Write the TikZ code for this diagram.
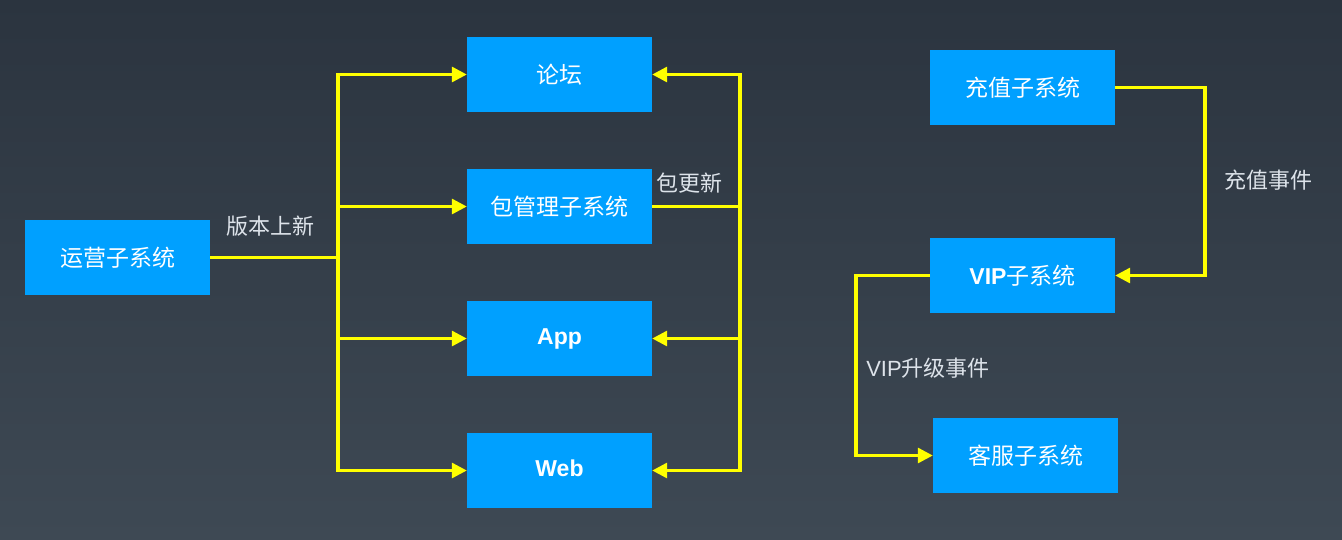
\documentclass[tikz,border=0pt]{standalone}
\usepackage{fontspec}
\setmainfont{Noto Sans CJK SC}
\newfontfamily\cjk{Noto Sans CJK SC}
\newfontfamily\latb{Liberation Sans}
\usetikzlibrary{arrows.meta}
\definecolor{boxblue}{HTML}{00A0FF}
\definecolor{bgtop}{HTML}{2B343F}
\definecolor{bgbot}{HTML}{3E4954}
\definecolor{linky}{HTML}{FFFF00}
\definecolor{lbl}{HTML}{DDE3EA}
\begin{document}
\begin{tikzpicture}[x=1pt,y=-1pt,
  sys/.style={fill=boxblue,minimum width=185pt,minimum height=75pt,inner sep=0pt,text=white,font=\cjk\fontsize{23}{25}\selectfont},
  lab/.style={text=lbl,font=\cjk\fontsize{22}{24}\selectfont,inner sep=0pt},
  conn/.style={draw=linky,line width=3.2pt,line cap=rect},
  arr/.style={conn,-{Triangle[length=15pt,width=15pt]}}]
\shade[top color=bgtop,bottom color=bgbot] (0,0) rectangle (1342,539);
\useasboundingbox (0,0) rectangle (1342,539);
\node[sys] (ops) at (117.5,257.5) {运营子系统};
\node[sys] (forum) at (559.5,74.5) {论坛};
\node[sys] (pkg) at (559.5,206.5) {包管理子系统};
\node[sys] (app) at (559.5,338.5) {\latb\bfseries App\vphantom{p}};
\node[sys] (web) at (559.5,470.5) {\latb\bfseries Web\vphantom{p}};
\node[sys] (pay) at (1022.5,87.5) {充值子系统};
\node[sys] (vip) at (1022.5,275.5) {{\latb\bfseries VIP}子系统};
\node[sys] (cs) at (1025.5,455.5) {客服子系统};
\coordinate (lt) at (338,257.5);
\coordinate (rt) at (740,206.5);
\coordinate (pc) at (1205,87.5);
\coordinate (vc) at (856,275.5);
% left trunk
\draw[conn,line cap=butt] (ops.east) -- (lt);
\draw[conn] (lt |- forum.west) -- (lt |- web.west);
\draw[arr] (lt |- forum.west) -- (forum.west);
\draw[arr] (lt |- pkg.west) -- (pkg.west);
\draw[arr] (lt |- app.west) -- (app.west);
\draw[arr] (lt |- web.west) -- (web.west);
% right trunk
\draw[conn,line cap=butt] (pkg.east) -- (rt);
\draw[conn] (rt |- forum.east) -- (rt |- web.east);
\draw[arr] (rt |- forum.east) -- (forum.east);
\draw[arr] (rt |- app.east) -- (app.east);
\draw[arr] (rt |- web.east) -- (web.east);
% pay -> vip
\draw[arr,line cap=butt] (pay.east) -- (pc) -- (pc |- vip.east) -- (vip.east);
% vip -> cs
\draw[arr,line cap=butt] (vip.west) -- (vc) -- (vc |- cs.west) -- (cs.west);
% labels
\node[lab] (l1) at (270,226) {版本上新};
\node[lab] (l2) at (689,183) {包更新};
\node[lab] (l3) at (1268,180) {充值事件};
\node[lab] (l4) at (928,368) {{\latb VIP}升级事件};
\end{tikzpicture}
\end{document}
